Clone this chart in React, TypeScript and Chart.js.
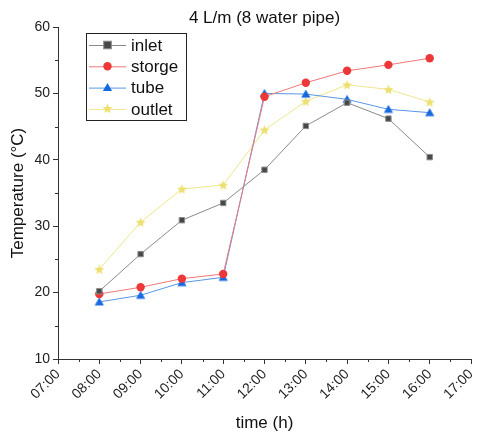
import React, { useEffect, useRef } from "react";
import { Chart, registerables } from "chart.js";

Chart.register(...registerables);

const hours = [8, 9, 10, 11, 12, 13, 14, 15, 16];
const inlet = [20.2, 25.8, 30.9, 33.5, 38.5, 45.1, 48.6, 46.2, 40.4];
const storge = [19.8, 20.8, 22.1, 22.8, 49.5, 51.6, 53.4, 54.3, 55.3];
const tube = [18.6, 19.6, 21.5, 22.3, 50.0, 49.9, 49.1, 47.6, 47.1];
const outlet = [23.5, 30.6, 35.6, 36.2, 44.5, 48.8, 51.3, 50.6, 48.7];
const seriesNames = ["inlet", "storge", "tube", "outlet"];
const chartTitle = "4 L/m (8 water pipe)";
const xMin = 7;
const xMax = 17;
const yMin = 10;
const yMax = 60;

const FONT = "'Liberation Sans', Arial, sans-serif";

const styles = [
  { line: "#8a8a8a", fill: "#474747", border: "#8a8a8a", shape: "rect", r: 3.8 },
  { line: "#f07878", fill: "#ec3838", border: "#ec3838", shape: "circle", r: 4.2 },
  { line: "#5a96e6", fill: "#1769e0", border: "#1769e0", shape: "triangle", r: 4.6 },
  { line: "#f0e68c", fill: "#ece070", border: "#ece070", shape: "star", r: 5.2 },
];

function drawStar(ctx: CanvasRenderingContext2D, x: number, y: number, r: number) {
  ctx.beginPath();
  for (let i = 0; i < 10; i++) {
    const rr = i % 2 === 0 ? r : r * 0.45;
    const a = -Math.PI / 2 + (i * Math.PI) / 5;
    const px = x + rr * Math.cos(a);
    const py = y + rr * Math.sin(a);
    if (i === 0) ctx.moveTo(px, py);
    else ctx.lineTo(px, py);
  }
  ctx.closePath();
  ctx.fill();
}

function makeStarCanvas(color: string, r: number) {
  const c = document.createElement("canvas");
  const s = Math.ceil(r * 2 + 2);
  c.width = s;
  c.height = s;
  const ctx = c.getContext("2d")!;
  ctx.fillStyle = color;
  drawStar(ctx, s / 2, s / 2 + 0.5, r);
  return c;
}

function makeTriCanvas(color: string, r: number) {
  const c = document.createElement("canvas");
  const s = Math.ceil(r * 2 + 2);
  c.width = s;
  c.height = s;
  const ctx = c.getContext("2d")!;
  ctx.fillStyle = color;
  const x = s / 2;
  const y = s / 2;
  ctx.beginPath();
  ctx.moveTo(x, y - r);
  ctx.lineTo(x + r, y + r * 0.75);
  ctx.lineTo(x - r, y + r * 0.75);
  ctx.closePath();
  ctx.fill();
  return c;
}

function drawMarker(ctx: CanvasRenderingContext2D, shape: string, x: number, y: number, st: any) {
  ctx.save();
  ctx.fillStyle = st.fill;
  ctx.strokeStyle = st.border;
  ctx.lineWidth = 1;
  if (shape === "rect") {
    ctx.fillRect(x - st.r, y - st.r, st.r * 2, st.r * 2);
    ctx.strokeRect(x - st.r, y - st.r, st.r * 2, st.r * 2);
  } else if (shape === "circle") {
    ctx.beginPath();
    ctx.arc(x, y, st.r, 0, Math.PI * 2);
    ctx.fill();
  } else if (shape === "triangle") {
    const r = st.r;
    ctx.beginPath();
    ctx.moveTo(x, y - r);
    ctx.lineTo(x + r, y + r * 0.75);
    ctx.lineTo(x - r, y + r * 0.75);
    ctx.closePath();
    ctx.fill();
  } else {
    drawStar(ctx, x, y, st.r);
  }
  ctx.restore();
}

const decorPlugin = {
  id: "decor",
  afterDraw(chart: any) {
    const ctx = chart.ctx as CanvasRenderingContext2D;
    const x = chart.scales.x;
    const y = chart.scales.y;
    const area = chart.chartArea;
    ctx.save();
    // title centred over the plot area
    ctx.font = `17px ${FONT}`;
    ctx.fillStyle = "#111";
    ctx.textAlign = "center";
    ctx.textBaseline = "middle";
    ctx.fillText(chartTitle, (area.left + area.right) / 2, area.top - 9);

    ctx.strokeStyle = "#333";
    ctx.lineWidth = 1;
    for (let v = xMin + 0.5; v < xMax; v += 1) {
      const px = Math.round(x.getPixelForValue(v)) + 0.5;
      ctx.beginPath();
      ctx.moveTo(px, area.bottom);
      ctx.lineTo(px, area.bottom + 3);
      ctx.stroke();
    }
    for (let v = yMin + 5; v < yMax; v += 10) {
      const py = Math.round(y.getPixelForValue(v)) + 0.5;
      ctx.beginPath();
      ctx.moveTo(area.left - 3, py);
      ctx.lineTo(area.left, py);
      ctx.stroke();
    }
    const lx = area.left + 28;
    const ly = area.top + 6;
    const lw = 100;
    const lh = 87;
    ctx.fillStyle = "#fff";
    ctx.fillRect(lx, ly, lw, lh);
    ctx.strokeStyle = "#222";
    ctx.lineWidth = 1;
    ctx.strokeRect(lx + 0.5, ly + 0.5, lw, lh);
    ctx.font = `17px ${FONT}`;
    ctx.textBaseline = "middle";
    ctx.textAlign = "left";
    seriesNames.forEach((name, i) => {
      const st = styles[i];
      const cy = ly + 12 + i * 21.3;
      ctx.strokeStyle = st.line;
      ctx.lineWidth = 1;
      ctx.beginPath();
      ctx.moveTo(lx + 3, cy + 0.5);
      ctx.lineTo(lx + 40, cy + 0.5);
      ctx.stroke();
      drawMarker(ctx, st.shape, lx + 21.5, cy, st);
      ctx.fillStyle = "#111";
      ctx.fillText(name, lx + 45, cy + 1);
    });
    ctx.restore();
  },
};

export default function App() {
  const ref = useRef<HTMLCanvasElement>(null);
  useEffect(() => {
    const datasets = [inlet, storge, tube, outlet].map((vals, i) => {
      const st = styles[i];
      const ps: any =
        st.shape === "star"
          ? makeStarCanvas(st.fill, st.r)
          : st.shape === "triangle"
          ? makeTriCanvas(st.fill, st.r)
          : st.shape;
      return {
        label: seriesNames[i],
        data: hours.map((h, j) => ({ x: h, y: vals[j] })),
        borderColor: st.line,
        borderWidth: 1,
        backgroundColor: st.fill,
        pointBackgroundColor: st.fill,
        pointBorderColor: st.border,
        pointBorderWidth: st.shape === "rect" ? 1 : 0,
        pointStyle: ps,
        pointRadius: st.r,
        tension: 0,
      };
    });
    const chart = new Chart(ref.current!, {
      type: "line",
      data: { datasets },
      options: {
        animation: false,
        responsive: false,
        devicePixelRatio: 1,
        layout: { padding: { top: 27, right: 9, left: 0, bottom: 0 } },
        plugins: {
          legend: { display: false },
          tooltip: { enabled: false },
          title: { display: false },
        },
        scales: {
          x: {
            type: "linear",
            min: xMin,
            max: xMax,
            ticks: {
              stepSize: 1,
              maxRotation: 45,
              minRotation: 45,
              color: "#222",
              font: { family: FONT, size: 14 },
              padding: 2,
              callback: (v: any) => String(v).padStart(2, "0") + ":00",
            },
            grid: { drawOnChartArea: false, tickLength: 5, color: "#333" },
            border: { color: "#333", width: 1 },
            title: {
              display: true,
              text: "time (h)",
              color: "#111",
              font: { family: FONT, size: 17 },
              padding: { top: 4, bottom: 3 },
            },
            afterFit: (s: any) => {
              s.height = 78;
              s.paddingLeft = 0;
              s.paddingRight = 0;
            },
          },
          y: {
            min: yMin,
            max: yMax,
            ticks: {
              stepSize: 10,
              color: "#222",
              font: { family: FONT, size: 14 },
              padding: 3,
            },
            grid: { drawOnChartArea: false, tickLength: 5, color: "#333" },
            border: { color: "#333", width: 1 },
            title: {
              display: true,
              text: "Temperature (°C)",
              color: "#111",
              font: { family: FONT, size: 17 },
              padding: { top: 8, bottom: 4 },
            },
            afterFit: (s: any) => {
              s.width = 58;
              s.paddingTop = 0;
              s.paddingBottom = 0;
            },
          },
        },
      } as any,
      plugins: [decorPlugin],
    });
    return () => chart.destroy();
  }, []);
  return (
    <div style={{ position: "absolute", left: 0, top: 0, width: 480, height: 437, background: "#fff" }}>
      <canvas ref={ref} width={480} height={437} />
    </div>
  );
}
